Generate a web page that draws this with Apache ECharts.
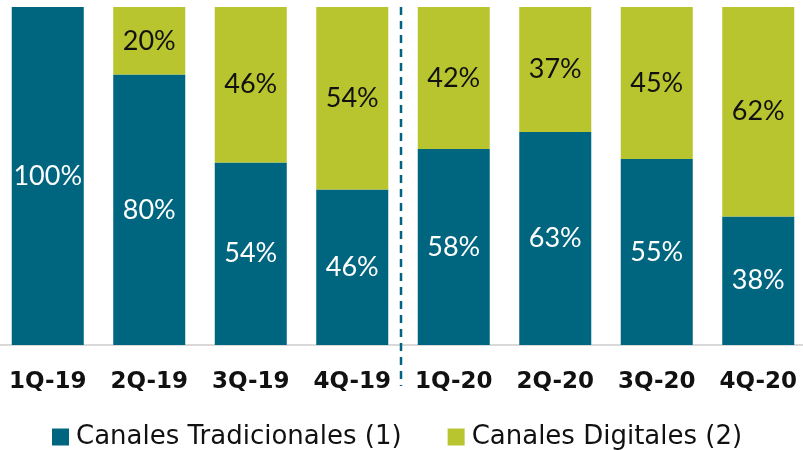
<!DOCTYPE html>
<html>
<head>
<meta charset="utf-8">
<script src="https://cdn.jsdelivr.net/npm/echarts@6/dist/echarts.min.js"></script>
<style>
  html, body { margin: 0; padding: 0; background: #fff; overflow: hidden; }
  #chart { position: absolute; left: -3px; top: 0; width: 812px; height: 450px; }
</style>
</head>
<body>
<div id="chart"></div>
<script>
var categories = ["1Q-19", "2Q-19", "3Q-19", "4Q-19", "1Q-20", "2Q-20", "3Q-20", "4Q-20"];
var tradicionales = [100, 80, 54, 46, 58, 63, 55, 38];
var digitales = [0, 20, 46, 54, 42, 37, 45, 62];

var TEAL = "#00657F";
var LIME = "#B8C52E";
var LABEL_FONT = "Lato";
var TEXT_FONT = "DejaVu Sans";

function pct(p) {
  return p.value > 0 ? p.value + "%" : "";
}

var chart = echarts.init(document.getElementById("chart"));
var option = {
  animation: false,
  grid: { left: 0, right: 0, top: 7, bottom: 105 },
  legend: {
    left: 50,
    top: 419,
    itemWidth: 17,
    itemHeight: 17,
    itemGap: 46,
    icon: "rect",
    textStyle: { fontFamily: TEXT_FONT, fontSize: 26, color: "#111", padding: [0, 0, 0, 2] },
    data: ["Canales Tradicionales (1)", "Canales Digitales (2)"]
  },
  xAxis: {
    type: "category",
    data: categories,
    axisTick: { show: false },
    axisLine: { lineStyle: { color: "#D9D9D9", width: 2 } },
    axisLabel: { interval: 0, fontFamily: TEXT_FONT, fontWeight: "bold", fontSize: 23, color: "#111", margin: 26 }
  },
  yAxis: { type: "value", min: 0, max: 100, show: false },
  series: [
    {
      name: "Canales Tradicionales (1)",
      type: "bar",
      stack: "total",
      barWidth: 72,
      itemStyle: { color: TEAL },
      label: { show: true, position: "inside", formatter: pct, color: "#fff", fontFamily: LABEL_FONT, fontSize: 27 },
      data: tradicionales
    },
    {
      name: "Canales Digitales (2)",
      type: "bar",
      stack: "total",
      barWidth: 72,
      itemStyle: { color: LIME },
      label: { show: true, position: "inside", formatter: pct, color: "#111", fontFamily: LABEL_FONT, fontSize: 27 },
      data: digitales
    }
  ]
};
chart.setOption(option);

// separador punteado entre 2019 y 2020
var xa = chart.convertToPixel({ xAxisIndex: 0 }, 3);
var xb = chart.convertToPixel({ xAxisIndex: 0 }, 4);
var xs = (xa + xb) / 2 - 2;
chart.setOption({
  graphic: [{
    type: "line",
    shape: { x1: xs, y1: 7, x2: xs, y2: 386 },
    style: { stroke: TEAL, lineWidth: 2.5, lineDash: [8, 6] },
    z: 10
  }]
});
</script>
</body>
</html>
